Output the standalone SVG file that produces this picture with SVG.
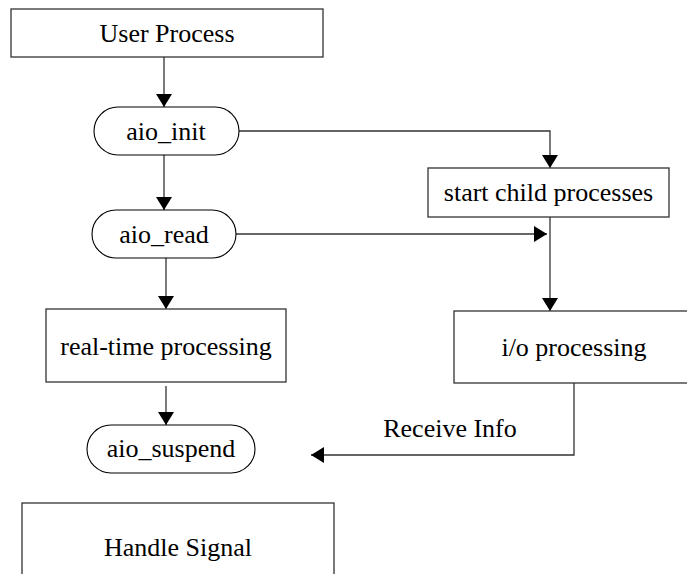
<svg xmlns="http://www.w3.org/2000/svg" width="687" height="574" viewBox="0 0 687 574">
<defs>
<style>
.box{fill:#fff;stroke:#333;stroke-width:1.3}
.pill{fill:#fff;stroke:#000;stroke-width:1.1}
.lbl{font-family:'Liberation Serif','Times New Roman',Tinos,'DejaVu Serif',serif;font-size:26px;fill:#000;text-anchor:middle}
.edge{fill:none;stroke:#333;stroke-width:1.3;marker-end:url(#ah)}
</style>
<marker id="ah" markerUnits="userSpaceOnUse" markerWidth="14" markerHeight="16" viewBox="0 0 14 16" refX="13" refY="8" orient="auto">
<path d="M0,0 L13,8 L0,16 Z" fill="#000"/>
</marker>
</defs>
<rect width="687" height="574" fill="#fff"/>
<g id="connectors">
<path class="edge" d="M164,57 L164,107"/>
<path class="edge" d="M164,155 L164,210"/>
<path class="edge" d="M166,258 L166,309"/>
<path class="edge" d="M166,386 L166,425"/>
<path class="edge" d="M239,131 L550,131 L550,168"/>
<path class="edge" d="M236,234 L547,234"/>
<path class="edge" d="M550,217 L550,311"/>
<path class="edge" d="M574,383 L574,455 L311,455"/>
<text class="lbl" font-family="Liberation Serif, serif" x="450" y="437">Receive Info</text>
</g>
<g id="user-process">
<rect class="box" x="11" y="9" width="312" height="48"/>
<text class="lbl" font-family="Liberation Serif, serif" x="167" y="42">User Process</text>
</g>
<g id="aio-init">
<rect class="pill" x="94" y="107" width="145" height="48" rx="24" ry="24"/>
<text class="lbl" font-family="Liberation Serif, serif" x="166" y="140">aio_init</text>
</g>
<g id="aio-read">
<rect class="pill" x="92" y="210" width="144" height="48" rx="24" ry="24"/>
<text class="lbl" font-family="Liberation Serif, serif" x="164" y="243">aio_read</text>
</g>
<g id="start-child">
<rect class="box" x="428" y="168" width="241" height="49"/>
<text class="lbl" font-family="Liberation Serif, serif" x="548.5" y="201">start child processes</text>
</g>
<g id="real-time">
<rect class="box" x="46" y="309" width="240" height="73"/>
<text class="lbl" font-family="Liberation Serif, serif" x="166" y="355">real-time processing</text>
</g>
<g id="io-processing">
<rect class="box" x="454" y="311" width="240" height="72"/>
<text class="lbl" font-family="Liberation Serif, serif" x="574" y="356">i/o processing</text>
</g>
<g id="aio-suspend">
<rect class="pill" x="87" y="425" width="168" height="48" rx="24" ry="24"/>
<text class="lbl" font-family="Liberation Serif, serif" x="171" y="457">aio_suspend</text>
</g>
<g id="handle-signal">
<rect class="box" x="22" y="503" width="312" height="90"/>
<text class="lbl" font-family="Liberation Serif, serif" x="178" y="556">Handle Signal</text>
</g>
</svg>
